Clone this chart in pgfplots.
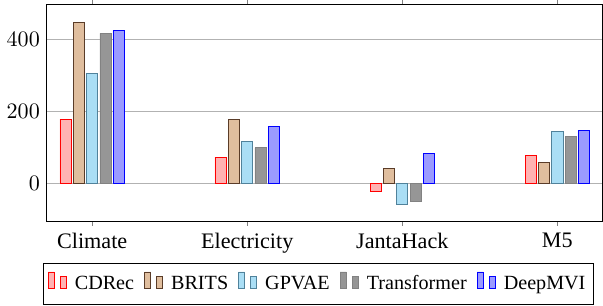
\documentclass[border=0pt]{standalone}
\usepackage{fontspec}
\setmainfont{Liberation Serif}
\usepackage{pgfplots}
\pgfplotsset{compat=1.18}
\definecolor{cdfill}{RGB}{255,178,178}
\definecolor{brfill}{RGB}{224,190,158}
\definecolor{brdraw}{RGB}{90,60,40}
\definecolor{gpfill}{RGB}{170,222,245}
\definecolor{gpdraw}{RGB}{80,130,155}
\definecolor{trfill}{RGB}{150,150,150}
\definecolor{trdraw}{RGB}{130,130,130}
\definecolor{dmfill}{RGB}{155,155,255}
\begin{document}
\begin{tikzpicture}
\begin{axis}[
  width=276pt, height=108pt, scale only axis,
  ybar, bar width=0.072,
  xmin=-0.292, xmax=3.292, ymin=-106, ymax=498,
  xtick={0,1,2,3}, xticklabels={Climate,Electricity,JantaHack,M5},
  x tick label style={font=\fontsize{11}{13}\selectfont},
  y tick label style={font=\fontsize{11}{13}\selectfont},
  ytick={0,200,400},
  ymajorgrids, grid style={gray!60},
  major tick length=2pt,
  ytick style={draw=none},
  legend columns=5,
  legend style={at={(0.489,-0.19)}, anchor=north, draw=black, inner ysep=4pt, inner xsep=2pt, font=\fontsize{10}{12}\selectfont,
    /tikz/every odd column/.append style={column sep=2pt},
    /tikz/every even column/.append style={column sep=3pt}},
]
\addplot[bar shift=-0.172, fill=cdfill, draw=red] coordinates {(0,179) (1,73) (2,-23) (3,79)};
\addplot[bar shift=-0.086, fill=brfill, draw=brdraw] coordinates {(0,447) (1,178) (2,43) (3,59)};
\addplot[bar shift=0, fill=gpfill, draw=gpdraw] coordinates {(0,305) (1,116) (2,-59) (3,145)};
\addplot[bar shift=0.086, fill=trfill, draw=trdraw] coordinates {(0,417) (1,99) (2,-49) (3,131)};
\addplot[bar shift=0.172, fill=dmfill, draw=blue] coordinates {(0,424) (1,158) (2,83) (3,147)};
\legend{CDRec,BRITS,GPVAE,Transformer,DeepMVI}
\end{axis}
\end{tikzpicture}
\end{document}
